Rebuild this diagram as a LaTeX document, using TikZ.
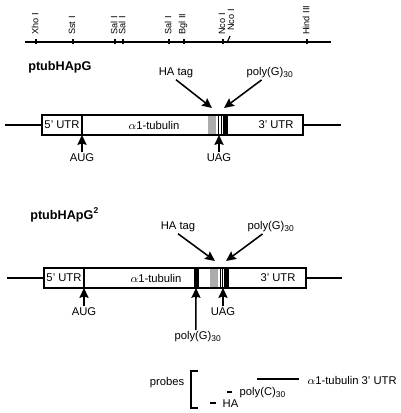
\documentclass[tikz,border=0pt]{standalone}
\usepackage{fontspec}
\setmainfont{Liberation Sans}
\usetikzlibrary{arrows.meta}

\begin{document}
\begin{tikzpicture}[x=0.025cm,y=-0.025cm,
    >={Stealth[length=7pt,width=6.5pt,inset=1pt]},
    lbl/.style={font=\fontsize{8}{9}\selectfont,inner sep=1pt},
    site/.style={font=\fontsize{6.5}{7}\selectfont,rotate=90,anchor=west,inner sep=0pt},
    title/.style={font=\fontsize{9}{10}\selectfont\bfseries,anchor=west,inner sep=0pt},
    arr/.style={->,line width=1.1pt},
    gene/.style={draw,line width=1pt},
    probe/.style={line width=1.2pt}]

    \useasboundingbox (0,0) rectangle (400,413);

    % restriction map
    \draw[line width=1pt] (25,42) -- (331,42);
    \foreach \x/\name in {36/Xho I,73/Sst I,115/Sal I,123/Sal I,169/Sal I,184/Bgl II,223/Nco I,307/Hind III}{
        \draw[line width=0.8pt] (\x,39) -- (\x,44);
        \node[site] (s\x) at (\x-1,35) {\name};
    }
    \draw[line width=0.8pt] (227,43) -- (230,36);
    \node[site] (s230) at (231,31) {Nco I};

    % ptubHApG
    \node[title] (t1) at (28,67) {ptubHApG};
    \draw[line width=1pt] (5,125) -- (42,125);
    \draw[line width=1pt] (303,125) -- (341,125);
    \fill[gray!65] (208,115) rectangle (216,135);
    \draw (218.5,115) -- (218.5,135);
    \draw (221,115) -- (221,135);
    \fill (223,115) rectangle (228,135);
    \draw[gene] (42,115) rectangle (303,135);
    \draw[gene] (82,115) -- (82,135);
    \node[lbl] (utr5a) at (62,125) {5' UTR};
    \node[lbl] (tuba) at (154,125) {$\alpha$1-tubulin};
    \node[lbl] (utr3a) at (276,125) {3' UTR};

    \node[lbl] (haa) at (176,73) {HA tag};
    \node[lbl] (pga) at (270,73) {poly(G)\textsubscript{30}};
    \coordinate (hatipa) at (212,108);
    \coordinate (pgtipa) at (224,108);
    \draw[arr] (haa.south) -- (hatipa);
    \draw[arr] ([xshift=-6pt]pga.south) -- (pgtipa);

    \node[lbl] (auga) at (82,158) {AUG};
    \node[lbl] (uaga) at (219,158) {UAG};
    \coordinate (augtipa) at (82,135);
    \coordinate (uagtipa) at (219,135);
    \draw[arr] (auga) -- (augtipa);
    \draw[arr] (uaga) -- (uagtipa);

    % ptubHApG^2
    \node[title] (t2) at (30,215) {ptubHApG\textsuperscript{2}};
    \draw[line width=1pt] (7,278) -- (44,278);
    \draw[line width=1pt] (306,278) -- (342,278);
    \fill (194,268) rectangle (199,288);
    \fill[gray!65] (210,268) rectangle (218,288);
    \draw (220,268) -- (220,288);
    \draw (222.5,268) -- (222.5,288);
    \fill (224,268) rectangle (229,288);
    \draw[gene] (44,268) rectangle (306,288);
    \draw[gene] (84,268) -- (84,288);
    \node[lbl] (utr5b) at (64,278) {5' UTR};
    \node[lbl] (tubb) at (156,278) {$\alpha$1-tubulin};
    \node[lbl] (utr3b) at (278,278) {3' UTR};

    \node[lbl] (hab) at (178,227) {HA tag};
    \node[lbl] (pgb) at (271,227) {poly(G)\textsubscript{30}};
    \coordinate (hatipb) at (215,261);
    \coordinate (pgtipb) at (226,261);
    \draw[arr] (hab.south) -- (hatipb);
    \draw[arr] ([xshift=-6pt]pgb.south) -- (pgtipb);

    \node[lbl] (augb) at (84,312) {AUG};
    \node[lbl] (uagb) at (223,312) {UAG};
    \node[lbl] (pgc) at (198,337) {poly(G)\textsubscript{30}};
    \coordinate (augtipb) at (84,288);
    \coordinate (uagtipb) at (223,288);
    \coordinate (pgtipc) at (196,288);
    \draw[arr] (augb) -- (augtipb);
    \draw[arr] (uagb) -- (uagtipb);
    \draw[arr] ([xshift=-1.5pt]pgc.north) -- (pgtipc);

    % probes
    \node[lbl] (probes) at (167,383) {probes};
    \draw[line width=1.1pt] (198,371) -- (191,371) -- (191,408) -- (198,408);
    \coordinate (tubl) at (257,379);
    \coordinate (tubr) at (299,379);
    \coordinate (pcl) at (227,392);
    \coordinate (pcr) at (232,392);
    \coordinate (hal) at (210,403);
    \coordinate (har) at (216,403);
    \draw[probe] (tubl) -- (tubr);
    \draw[probe] (pcl) -- (pcr);
    \draw[probe] (hal) -- (har);
    \node[lbl,anchor=west] (ptub) at (306,380) {$\alpha$1-tubulin 3' UTR};
    \node[lbl,anchor=west] (ppc) at (238,393) {poly(C)\textsubscript{30}};
    \node[lbl,anchor=west] (pha) at (221,404) {HA};
\end{tikzpicture}
\end{document}
